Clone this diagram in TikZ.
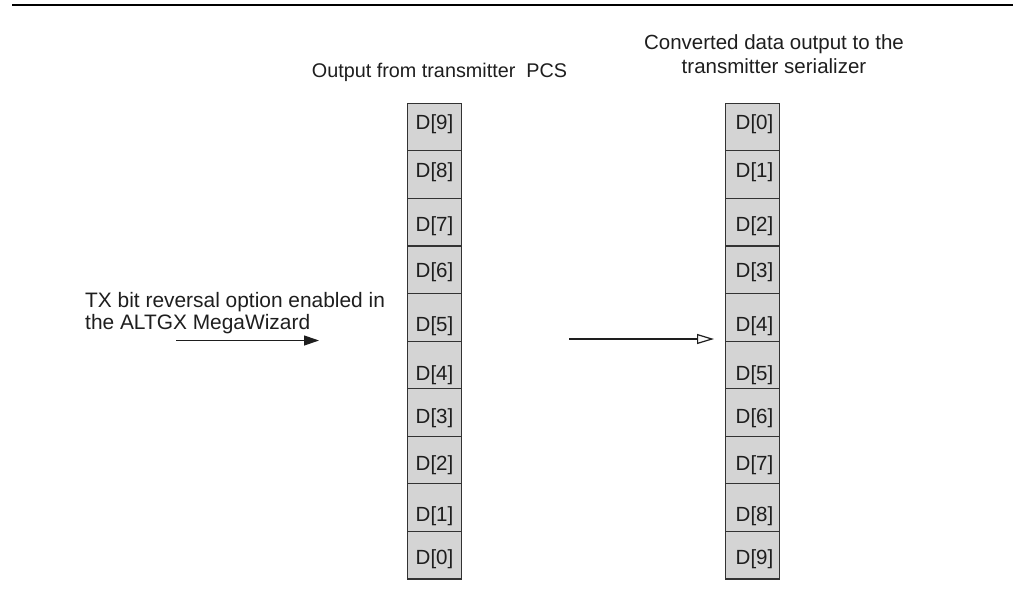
\documentclass[tikz,border=0pt]{standalone}
\usepackage{fontspec}
\setmainfont{Liberation Sans}
\usetikzlibrary{arrows.meta}
\definecolor{cellgray}{HTML}{D4D4D4}
\definecolor{edgegray}{HTML}{333333}
\definecolor{inkgray}{HTML}{1E1E1E}
\tikzset{
  cell/.style={draw=edgegray, line width=1.2pt, fill=cellgray, minimum width=54pt, minimum height=47.56pt, inner sep=0pt, anchor=north west},
  celltext/.style={anchor=base west, inner sep=0pt, text=inkgray, font=\fontsize{20.5}{23}\selectfont},
  heading/.style={inner sep=0pt, text=inkgray, font=\fontsize{20.5}{23}\selectfont, align=center},
  arrowline/.style={draw=inkgray, line width=1.2pt}
}
\begin{document}
\begin{tikzpicture}[x=1pt,y=-1pt]
\useasboundingbox (0,0) rectangle (1013,598);
% top rule
\coordinate (ruleA) at (12,5);
\coordinate (ruleB) at (1013,5);
\draw[line width=2.8pt, black] (ruleA) -- (ruleB);
% headings
\node[heading, anchor=base, font=\fontsize{19.8}{23}\selectfont] (hl) at (439.5,77) {Output from transmitter\ \ PCS};
\node[heading, anchor=base] (hr1) at (774,49) {Converted data output to the};
\node[heading, anchor=base] (hr2) at (774,73) {transmitter serializer};
% cells
\foreach \i in {0,...,9} {
  \node[cell] (L\i) at (407,{102.7+\i*47.56}) {};
  \node[cell] (R\i) at (725,{102.7+\i*47.56}) {};
}
% labels (baselines)
\def\bl{{129.5,177.5,231.5,277.5,331.5,380,423,470,521.5,564}}
\foreach \i/\lt/\rt in {0/9/0,1/8/1,2/7/2,3/6/3,4/5/4,5/4/5,6/3/6,7/2/7,8/1/8,9/0/9} {
  \pgfmathsetmacro{\yb}{\bl[\i]}
  \node[celltext] (LT\i) at (415.5,\yb) {D[\lt]};
  \node[celltext] (RT\i) at (735.5,\yb) {D[\rt]};
}
% left text
\node[heading, anchor=base west, align=left, font=\fontsize{20.9}{23}\selectfont] (tx1) at (85,307) {TX bit reversal option enabled in};
\node[heading, anchor=base west, align=left, font=\fontsize{20.9}{23}\selectfont] (tx2) at (85,329) {the ALTGX MegaWizard};
% arrows
\coordinate (a1s) at (176,340.5);
\coordinate (a1e) at (319,340.5);
\draw[arrowline, -{Triangle[length=15pt,width=10pt]}] (a1s) -- (a1e);
\coordinate (a2s) at (569,339);
\coordinate (a2e) at (714,339);
\draw[arrowline, -{Triangle[length=17pt,width=10pt,fill=white!85!cellgray]}] (a2s) -- (a2e);
\end{tikzpicture}
\end{document}
